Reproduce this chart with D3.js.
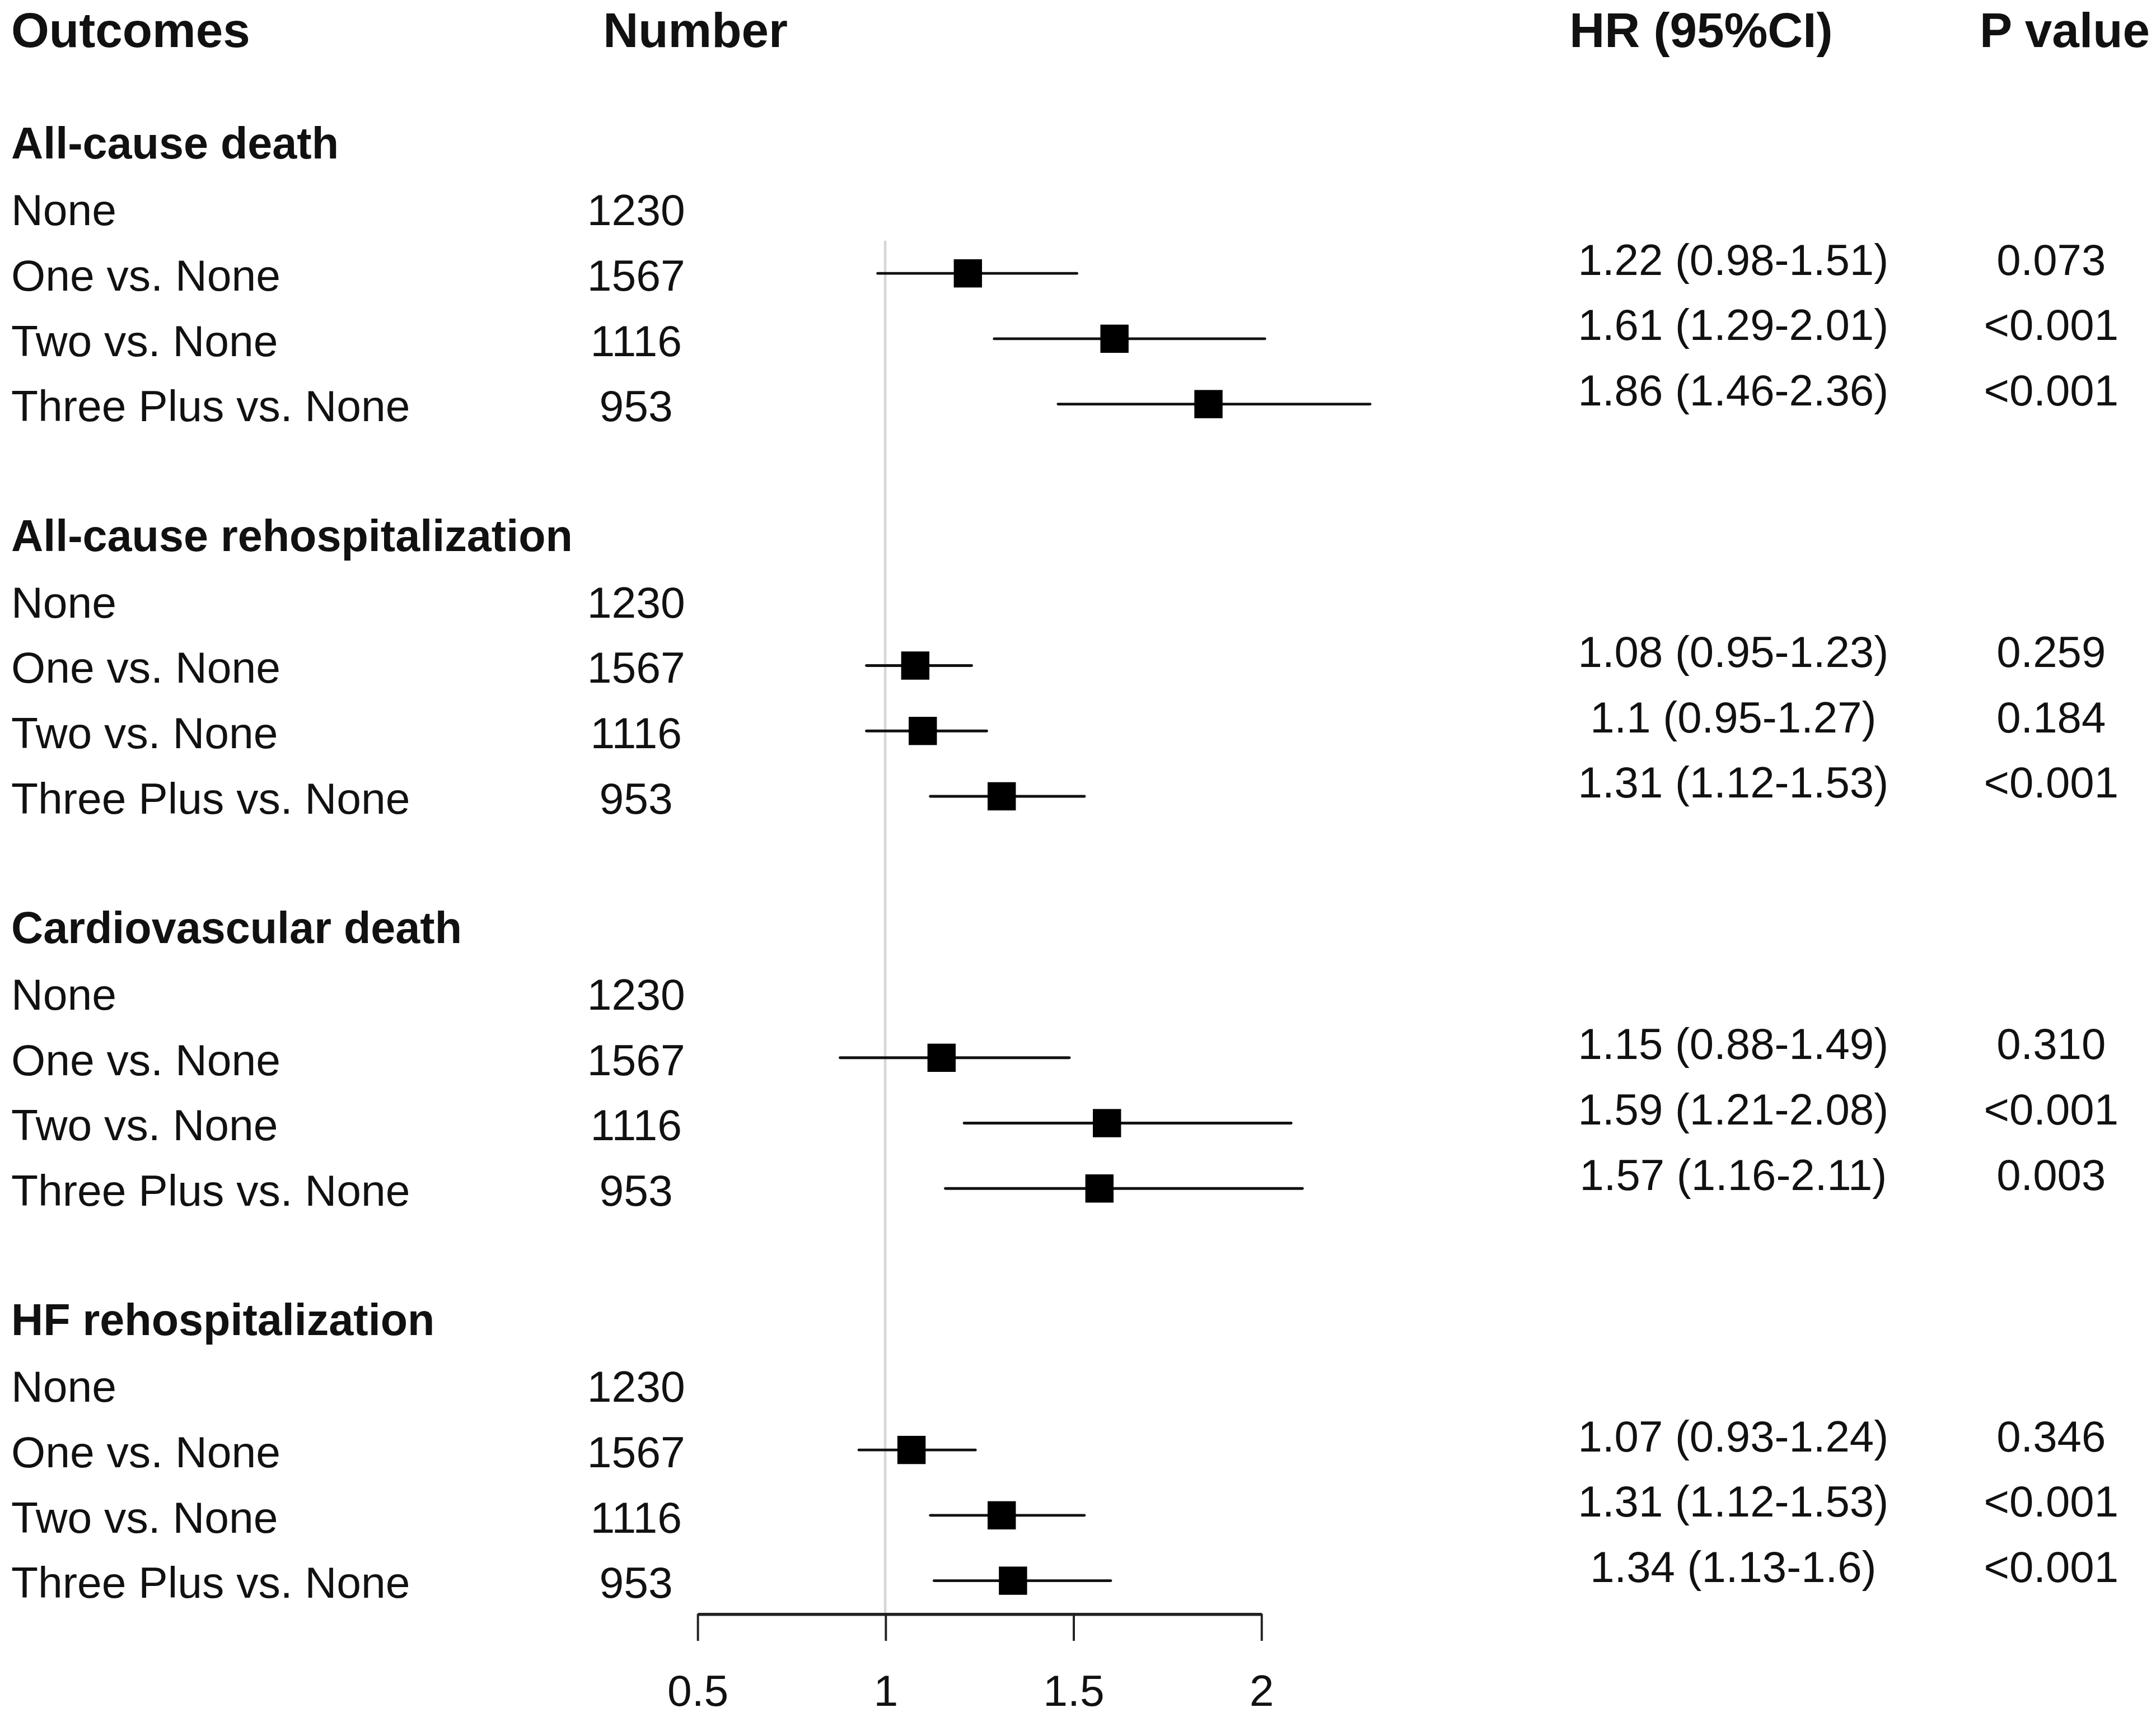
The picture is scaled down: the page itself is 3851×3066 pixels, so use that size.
<!DOCTYPE html>
<html>
<head>
<meta charset="utf-8">
<script src="https://cdn.jsdelivr.net/npm/d3@7"></script>
<style>
  html, body { margin: 0; padding: 0; background: #fff; }
  svg { display: block; }
  text { font-family: "Liberation Sans", Arial, Helvetica, sans-serif; fill: #111; }
</style>
</head>
<body>
<script>
// Column headers
const headers = ["Outcomes", "Number", "HR (95%CI)", "P value"];

// Outcome groups and the comparison rows inside each group
const outcomes = ["All-cause death", "All-cause rehospitalization", "Cardiovascular death", "HF rehospitalization"];
const comparisons = ["None", "One vs. None", "Two vs. None", "Three Plus vs. None"];
const numbers = [1230, 1567, 1116, 953];

// Hazard ratios (One, Two, Three Plus vs. None) per outcome
const hr    = [[1.22, 1.61, 1.86], [1.08, 1.10, 1.31], [1.15, 1.59, 1.57], [1.07, 1.31, 1.34]];
const lower = [[0.98, 1.29, 1.46], [0.95, 0.95, 1.12], [0.88, 1.21, 1.16], [0.93, 1.12, 1.13]];
const upper = [[1.51, 2.01, 2.36], [1.23, 1.27, 1.53], [1.49, 2.08, 2.11], [1.24, 1.53, 1.60]];
const hrLabels = [
    ["1.22 (0.98-1.51)", "1.61 (1.29-2.01)", "1.86 (1.46-2.36)"],
    ["1.08 (0.95-1.23)", "1.1 (0.95-1.27)", "1.31 (1.12-1.53)"],
    ["1.15 (0.88-1.49)", "1.59 (1.21-2.08)", "1.57 (1.16-2.11)"],
    ["1.07 (0.93-1.24)", "1.31 (1.12-1.53)", "1.34 (1.13-1.6)"]
];
const pValues = [
    ["0.073", "<0.001", "<0.001"],
    ["0.259", "0.184", "<0.001"],
    ["0.310", "<0.001", "0.003"],
    ["0.346", "<0.001", "<0.001"]
];

// x axis ticks and the plotting clip
const xTicks = [0.5, 1, 1.5, 2];
const clip = [0.5, 2.29];

// Build row table: one title row per outcome, four comparison rows, one blank row
let rows = [];
outcomes.forEach((o, g) => {
    rows.push({ type: "title", label: o, idx: g * 6 });
    comparisons.forEach((c, j) => {
        let r = { type: "row", label: c, n: numbers[j], idx: g * 6 + 1 + j };
        if (j > 0) {
            r.hr = hr[g][j - 1];
            r.lo = lower[g][j - 1];
            r.hi = upper[g][j - 1];
            r.hrText = hrLabels[g][j - 1];
            r.p = pValues[g][j - 1];
        }
        rows.push(r);
    });
});
const effects = rows.filter(d => d.hr !== undefined);

// Set up dimensions (drawn in a 1566-wide coordinate space, scaled to the page)
const W = 1566, H = 1247;
const fontSize = 32, titleSize = 32.2, headerSize = 35.5;
const col = { label: 8, number: 462, hr: 1259, p: 1490 };
const headerX = [8, 438, 1140, 1438];

const svg = d3.select("body").append("svg")
    .attr("width", 3851)
    .attr("height", 3066)
    .attr("viewBox", `0 0 ${W} ${H}`);

// Scales
const xScale = d3.scaleLinear().domain([0.5, 2]).range([506.4, 916]);
const yScale = d3.scaleLinear().domain([0, 22]).range([103.6, 1148]);
const axisY = 1172;

// Reference line at HR = 1
svg.append("line")
    .attr("x1", xScale(1)).attr("x2", xScale(1))
    .attr("y1", yScale(1.5)).attr("y2", axisY)
    .attr("stroke", "#d6d6d6")
    .attr("stroke-width", 1.8);

// Headers
svg.selectAll("text.header")
    .data(headers)
    .enter().append("text")
    .attr("class", "header")
    .attr("x", (d, i) => headerX[i])
    .attr("y", 34)
    .style("font-size", headerSize + "px")
    .style("font-weight", "bold")
    .text(d => d);

// Outcome titles
svg.selectAll("text.title")
    .data(rows.filter(d => d.type === "title"))
    .enter().append("text")
    .attr("class", "title")
    .attr("x", col.label)
    .attr("y", d => yScale(d.idx) + 11.6)
    .style("font-size", titleSize + "px")
    .style("font-weight", "bold")
    .text(d => d.label);

const cmpRows = rows.filter(d => d.type === "row");

// Comparison labels
svg.selectAll("text.label")
    .data(cmpRows)
    .enter().append("text")
    .attr("class", "label")
    .attr("x", col.label)
    .attr("y", d => yScale(d.idx) + 12.5)
    .style("font-size", fontSize + "px")
    .text(d => d.label);

// Numbers
svg.selectAll("text.num")
    .data(cmpRows)
    .enter().append("text")
    .attr("class", "num")
    .attr("x", col.number)
    .attr("y", d => yScale(d.idx) + 12.5)
    .attr("text-anchor", "middle")
    .style("font-size", fontSize + "px")
    .text(d => d.n);

// HR (95%CI) text
svg.selectAll("text.hr")
    .data(effects)
    .enter().append("text")
    .attr("class", "hr")
    .attr("x", col.hr)
    .attr("y", d => yScale(d.idx) + 1)
    .attr("text-anchor", "middle")
    .style("font-size", (fontSize - 0.3) + "px")
    .text(d => d.hrText);

// P values
svg.selectAll("text.p")
    .data(effects)
    .enter().append("text")
    .attr("class", "p")
    .attr("x", col.p)
    .attr("y", d => yScale(d.idx) + 1)
    .attr("text-anchor", "middle")
    .style("font-size", (fontSize - 0.3) + "px")
    .text(d => d.p);

// Confidence intervals
const clamp = v => Math.max(clip[0], Math.min(clip[1], v));
svg.selectAll("line.ci")
    .data(effects)
    .enter().append("line")
    .attr("class", "ci")
    .attr("x1", d => xScale(clamp(d.lo)))
    .attr("x2", d => xScale(clamp(d.hi)))
    .attr("y1", d => yScale(d.idx))
    .attr("y2", d => yScale(d.idx))
    .attr("stroke", "#111")
    .attr("stroke-width", 2)
    .attr("stroke-linecap", "round");

// Point estimates
const box = 20.5;
svg.selectAll("rect.pt")
    .data(effects)
    .enter().append("rect")
    .attr("class", "pt")
    .attr("x", d => xScale(d.hr) - box / 2)
    .attr("y", d => yScale(d.idx) - box / 2)
    .attr("width", box)
    .attr("height", box)
    .attr("fill", "#000");

// x axis
const xAxis = d3.axisBottom(xScale)
    .tickValues(xTicks)
    .tickFormat(d => d)
    .tickSize(19.7)
    .tickSizeOuter(0);

const gx = svg.append("g")
    .attr("transform", `translate(0,${axisY})`)
    .call(xAxis);
gx.select(".domain").attr("stroke", "#222").attr("stroke-width", 2.2);
gx.selectAll(".tick line").attr("stroke", "#222").attr("stroke-width", 1.6);
gx.selectAll(".tick text")
    .attr("y", 67)
    .attr("dy", null)
    .style("font-size", fontSize + "px")
    .style("font-family", "\"Liberation Sans\", Arial, sans-serif")
    .attr("fill", "#111");
</script>
</body>
</html>
